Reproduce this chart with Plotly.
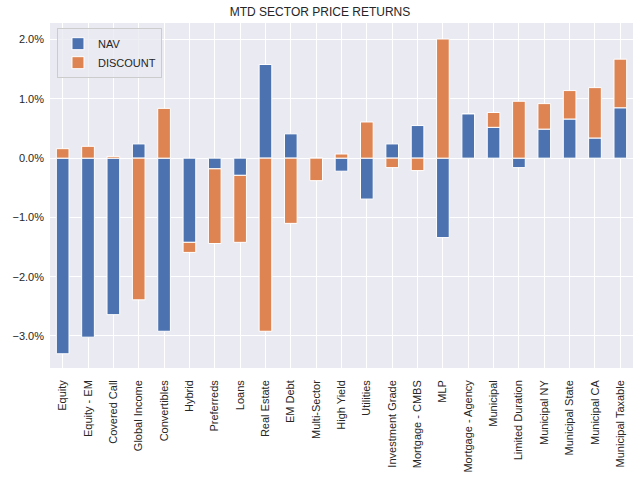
import plotly.graph_objects as go

categories = ["Equity", "Equity - EM", "Covered Call", "Global Income", "Convertibles",
              "Hybrid", "Preferreds", "Loans", "Real Estate", "EM Debt", "Multi-Sector",
              "High Yield", "Utilities", "Investment Grade", "Mortgage - CMBS", "MLP",
              "Mortgage - Agency", "Municipal", "Limited Duration", "Municipal NY",
              "Municipal State", "Municipal CA", "Municipal Taxable"]
nav = [-3.30, -3.02, -2.64, 0.24, -2.92,
       -1.42, -0.18, -0.29, 1.58, 0.41, 0.0,
       -0.22, -0.69, 0.24, 0.55, -1.34,
       0.75, 0.52, -0.16, 0.49,
       0.66, 0.34, 0.85]
discount = [0.16, 0.20, 0.03, -2.39, 0.84,
            -0.17, -1.26, -1.13, -2.92, -1.10, -0.38,
            0.07, 0.61, -0.16, -0.21, 2.01,
            0.0, 0.25, 0.96, 0.43,
            0.48, 0.85, 0.82]
ytick_vals = [-3, -2, -1, 0, 1, 2]
ytick_text = ["\u22123.0%", "\u22122.0%", "\u22121.0%", "0.0%", "1.0%", "2.0%"]

fig = go.Figure()
fig.add_trace(go.Bar(x=list(range(len(categories))), y=nav, name="NAV",
                     marker=dict(color="#4C72B0", line=dict(color="white", width=1)),
                     width=0.5))
fig.add_trace(go.Bar(x=list(range(len(categories))), y=discount, name="DISCOUNT",
                     marker=dict(color="#DD8452", line=dict(color="white", width=1)),
                     width=0.5))

fig.update_layout(
    width=640, height=484,
    barmode="relative",
    paper_bgcolor="white",
    plot_bgcolor="#EAEAF2",
    margin=dict(l=50, r=7, t=23, b=116, autoexpand=False),
    font=dict(family="Liberation Sans, Arial, sans-serif", size=11, color="#262626"),
    title=dict(text="MTD SECTOR PRICE RETURNS", x=0.5, xanchor="center", y=0.975,
               yanchor="middle", font=dict(size=12, color="#262626")),
    legend=dict(x=0.012, y=0.985, xanchor="left", yanchor="top",
                bgcolor="rgba(234,234,242,0.8)", bordercolor="#CCCCCC", borderwidth=1,
                font=dict(size=11), traceorder="normal", tracegroupgap=0),
    showlegend=True,
)
fig.update_xaxes(
    tickmode="array", tickvals=list(range(len(categories))), ticktext=categories,
    tickangle=-90, range=[-0.5, len(categories) - 0.5], automargin=False,
    showgrid=True, gridcolor="white", gridwidth=1.2, zeroline=False,
    ticks="", showline=False, ticklabelstandoff=9,
)
fig.update_yaxes(
    tickmode="array", tickvals=ytick_vals, ticktext=ytick_text, automargin=False,
    range=[-3.54, 2.28],
    showgrid=True, gridcolor="white", gridwidth=1.2, zeroline=False,
    ticks="", showline=False, ticklabelstandoff=5,
)

fig.write_html("out.html", post_script="document.body.style.margin='0';",
               config={"displayModeBar": False})
